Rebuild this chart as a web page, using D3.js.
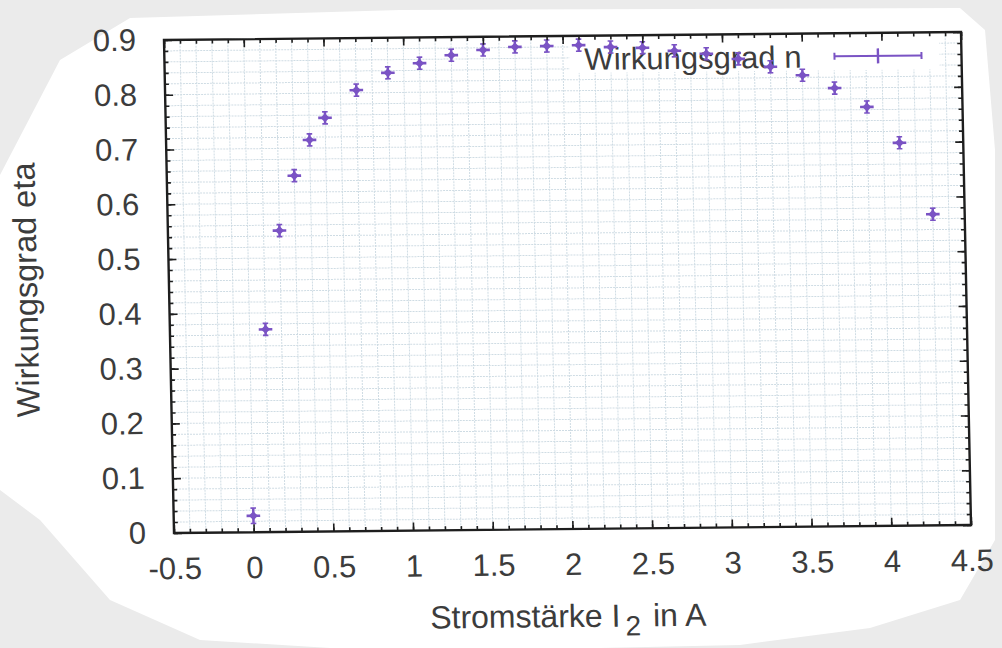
<!DOCTYPE html>
<html>
<head>
<meta charset="utf-8">
<script src="https://cdn.jsdelivr.net/npm/d3@7"></script>
<style>
    html, body { margin: 0; padding: 0; background: #fff; }
    svg { display: block; font-family: "Liberation Sans", Arial, sans-serif; }
</style>
</head>
<body>
<div id="chart"></div>
<script>
// Messwerte: Stromstärke I2 (A) und Wirkungsgrad eta
const current = [0, 0.1, 0.2, 0.3, 0.4, 0.5, 0.7, 0.9, 1.1, 1.3, 1.5, 1.7, 1.9,
    2.1, 2.3, 2.5, 2.7, 2.9, 3.1, 3.3, 3.5, 3.7, 3.9, 4.1, 4.3];
const eta = [0.03, 0.37, 0.55, 0.65, 0.715, 0.755, 0.805, 0.836, 0.853, 0.867, 0.876, 0.881, 0.882,
    0.883, 0.879, 0.877, 0.871, 0.865, 0.855, 0.84, 0.824, 0.8, 0.765, 0.699, 0.568];
const etaErr = [0.014, 0.011, 0.011, 0.011, 0.011, 0.011, 0.011, 0.011, 0.011, 0.011, 0.011, 0.011, 0.011,
    0.011, 0.011, 0.011, 0.011, 0.011, 0.011, 0.011, 0.011, 0.011, 0.011, 0.011, 0.011];

const xTicks = [-0.5, 0, 0.5, 1, 1.5, 2, 2.5, 3, 3.5, 4, 4.5];
const xTickLabels = ["-0.5", "0", "0.5", "1", "1.5", "2", "2.5", "3", "3.5", "4", "4.5"];
const yTicks = [0, 0.1, 0.2, 0.3, 0.4, 0.5, 0.6, 0.7, 0.8, 0.9];
const yTickLabels = ["0", "0.1", "0.2", "0.3", "0.4", "0.5", "0.6", "0.7", "0.8", "0.9"];

const seriesName = "Wirkungsgrad n";
const yTitle = "Wirkungsgrad eta";

// colors
const pointColor = "#7a53c4";
const axisColor = "#1e1e1e";
const textColor = "#3c3c3c";
const gridColor = "#cfdce4";

const width = 1002;
const height = 648;
// plot box (the scan is slightly skewed, see transform below)
const W = 797;
const H = 493;

const svg = d3.select("#chart")
    .append("svg")
    .attr("width", width)
    .attr("height", height);

// paper background
svg.append("rect").attr("width", width).attr("height", height).attr("fill", "#ebebeb");
svg.append("path")
    .attr("d", "M0,175 L60,60 L130,18 L400,10 L960,8 L985,30 L995,150 L995,540 L960,600 L870,628 L740,645 L600,648 L330,648 L200,640 L110,600 L40,520 L0,490 Z")
    .attr("fill", "#fff");

const g = svg.append("g")
    .attr("transform", "matrix(1,-0.01,0.0203,1,164,40)");

const x = d3.scaleLinear().domain([-0.5, 4.5]).range([0, W]);
const y = d3.scaleLinear().domain([0, 0.9]).range([H, 0]);

const xMinor = x.ticks(50);
const yMinor = y.ticks(45);

// grid on minor ticks
const grid = g.append("g")
    .attr("stroke", gridColor)
    .attr("stroke-width", 1)
    .attr("stroke-dasharray", "2,1");
grid.selectAll(".gx")
    .data(xMinor)
    .enter()
    .append("line")
    .attr("x1", (d) => x(d)).attr("x2", (d) => x(d))
    .attr("y1", 0).attr("y2", H);
grid.selectAll(".gy")
    .data(yMinor)
    .enter()
    .append("line")
    .attr("x1", 0).attr("x2", W)
    .attr("y1", (d) => y(d)).attr("y2", (d) => y(d));

// key (opaque)
g.append("rect")
    .attr("x", 405).attr("y", 1)
    .attr("width", 370).attr("height", 36)
    .attr("fill", "#fff");
g.append("text")
    .attr("x", 637).attr("y", 34)
    .attr("text-anchor", "end")
    .attr("font-size", 31)
    .attr("fill", textColor)
    .text(seriesName);
const key = g.append("g")
    .attr("stroke", pointColor)
    .attr("stroke-width", 2);
key.append("line").attr("x1", 670).attr("x2", 757).attr("y1", 23).attr("y2", 23);
key.append("line").attr("x1", 670).attr("x2", 670).attr("y1", 19.5).attr("y2", 26.5);
key.append("line").attr("x1", 757).attr("x2", 757).attr("y1", 19.5).attr("y2", 26.5);
key.append("line").attr("x1", 713.5).attr("x2", 713.5).attr("y1", 15.5).attr("y2", 30.5).attr("stroke-width", 2.4);

// data points with error bars
const pts = g.append("g")
    .selectAll("g")
    .data(current.map((c, i) => ({ c: c, e: eta[i], err: etaErr[i] })))
    .enter()
    .append("g")
    .attr("transform", (d) => `translate(${x(d.c)},${y(d.e)})`)
    .attr("stroke", pointColor)
    .attr("fill", pointColor);

pts.append("line")
    .attr("x1", 0).attr("x2", 0)
    .attr("y1", (d) => y(d.e + d.err) - y(d.e))
    .attr("y2", (d) => y(d.e - d.err) - y(d.e))
    .attr("stroke-width", 2.5);
pts.append("line")
    .attr("x1", -2.8).attr("x2", 2.8)
    .attr("y1", (d) => y(d.e + d.err) - y(d.e))
    .attr("y2", (d) => y(d.e + d.err) - y(d.e))
    .attr("stroke-width", 1.6);
pts.append("line")
    .attr("x1", -2.8).attr("x2", 2.8)
    .attr("y1", (d) => y(d.e - d.err) - y(d.e))
    .attr("y2", (d) => y(d.e - d.err) - y(d.e))
    .attr("stroke-width", 1.6);
pts.append("line")
    .attr("x1", -6.8).attr("x2", 6.8)
    .attr("y1", 0).attr("y2", 0)
    .attr("stroke-width", 2.6);
pts.append("path")
    .attr("d", "M0,-4.5L4.5,0L0,4.5L-4.5,0Z")
    .attr("stroke", "none");

// axes: ticks inward on all four sides
function styleAxis(sel) {
    sel.select(".domain").remove();
    sel.attr("font-family", null).attr("font-size", null);
    sel.selectAll(".tick line").attr("stroke", axisColor).attr("stroke-width", 1.6);
    sel.selectAll(".tick text").attr("fill", textColor).attr("font-size", 31);
}

g.append("g")
    .attr("transform", `translate(0,${H})`)
    .call(d3.axisBottom(x).tickValues(xTicks).tickFormat((d, i) => xTickLabels[i]).tickSize(-8).tickPadding(24))
    .call(styleAxis);
g.append("g")
    .attr("transform", `translate(0,${H})`)
    .call(d3.axisBottom(x).tickValues(xMinor).tickFormat("").tickSize(-4))
    .call(styleAxis);
g.append("g")
    .call(d3.axisTop(x).tickValues(xTicks).tickFormat("").tickSize(-8))
    .call(styleAxis);
g.append("g")
    .call(d3.axisTop(x).tickValues(xMinor).tickFormat("").tickSize(-4))
    .call(styleAxis);

g.append("g")
    .call(d3.axisLeft(y).tickValues(yTicks).tickFormat((d, i) => yTickLabels[i]).tickSize(-8).tickPadding(28))
    .call(styleAxis);
g.append("g")
    .call(d3.axisLeft(y).tickValues(yMinor).tickFormat("").tickSize(-4))
    .call(styleAxis);
g.append("g")
    .attr("transform", `translate(${W},0)`)
    .call(d3.axisRight(y).tickValues(yTicks).tickFormat("").tickSize(-8))
    .call(styleAxis);
g.append("g")
    .attr("transform", `translate(${W},0)`)
    .call(d3.axisRight(y).tickValues(yMinor).tickFormat("").tickSize(-4))
    .call(styleAxis);

// border
g.append("rect")
    .attr("width", W).attr("height", H)
    .attr("fill", "none")
    .attr("stroke", axisColor)
    .attr("stroke-width", 2.4);

// axis titles
g.append("text")
    .attr("transform", `translate(-132,${H / 2 + 2}) rotate(-90)`)
    .attr("text-anchor", "middle")
    .attr("font-size", 32.5)
    .attr("fill", textColor)
    .text(yTitle);

const xt = g.append("text")
    .attr("x", W / 2 - 6)
    .attr("y", H + 98)
    .attr("text-anchor", "middle")
    .attr("font-size", 32)
    .attr("fill", textColor);
xt.append("tspan").text("Stromstärke I");
xt.append("tspan").attr("dy", 9).attr("dx", 5).attr("font-size", 28).text("2");
xt.append("tspan").attr("dy", -9).attr("dx", 12).text("in A");
</script>
</body>
</html>
